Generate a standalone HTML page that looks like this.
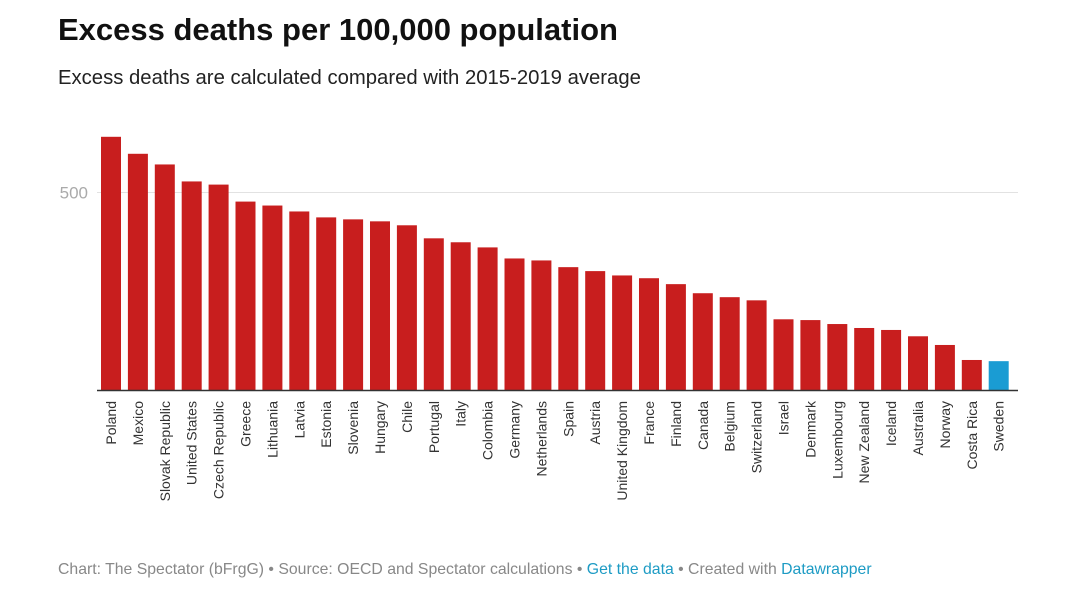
<!DOCTYPE html>
<html><head><meta charset="utf-8"><style>
body{margin:0;background:#fff;font-family:"Liberation Sans",sans-serif;}
#wrap{position:relative;width:1080px;height:608px;overflow:hidden}
h1{position:absolute;left:58px;top:12px;margin:0;font-size:31px;font-weight:bold;color:#111}
.sub{position:absolute;left:58px;top:67px;font-size:20.3px;color:#222}
.foot{position:absolute;left:58px;top:561px;font-size:15.8px;color:#888}
.foot a{color:#1d9bc4;text-decoration:none}
</style></head><body><div id="wrap">
<h1>Excess deaths per 100,000 population</h1>
<div class="sub">Excess deaths are calculated compared with 2015-2019 average</div>
<svg id="svg" width="1080" height="608" style="position:absolute;left:0;top:0"></svg>
<div class="foot">Chart: The Spectator (bFrgG) • Source: OECD and Spectator calculations • <a>Get the data</a> • Created with <a>Datawrapper</a></div>
</div>
<script>
const countries=["Poland","Mexico","Slovak Republic","United States","Czech Republic","Greece","Lithuania","Latvia","Estonia","Slovenia","Hungary","Chile","Portugal","Italy","Colombia","Germany","Netherlands","Spain","Austria","United Kingdom","France","Finland","Canada","Belgium","Switzerland","Israel","Denmark","Luxembourg","New Zealand","Iceland","Australia","Norway","Costa Rica","Sweden"];
const values=[641,598,571,528,520,477,467,452,437,432,427,417,384,374,361,333,328,311,301,290,283,268,245,235,227,179,177,167,157,152,136,114,76,73];
const ticks=[500];
const NS="http://www.w3.org/2000/svg",svg=document.getElementById("svg");
const y0=390,scale=(390-192.5)/500;
const yS=v=>y0-v*scale;
const x0=101,step=26.9,bw=20;
const xS=i=>x0+i*step;
function mk(t,a){const e=document.createElementNS(NS,t);for(const k in a)e.setAttribute(k,a[k]);svg.appendChild(e);return e;}
ticks.forEach(t=>{
 const l=mk("line",{x1:97,x2:1018,y1:yS(t),y2:yS(t),stroke:"#e2e2e2","stroke-width":1});
 
 
 const tx=mk("text",{x:88,y:yS(t)+6,"text-anchor":"end","font-size":17,fill:"#aaa","font-family":"Liberation Sans, sans-serif"});
 tx.textContent=t;
 
 
});
values.forEach((v,i)=>{
 const r=mk("rect",{x:xS(i),y:yS(v),width:bw,height:v*scale,fill:countries[i]==="Sweden"?"#1a9cd3":"#c81e1e"});
 
 
 const cx=xS(i)+bw/2+5;
 const t=mk("text",{x:cx,y:401,transform:`rotate(-90 ${cx} 401)`,"text-anchor":"end","font-size":14,fill:"#333","font-family":"Liberation Sans, sans-serif"});
 t.textContent=countries[i];
 
 
});
const b=mk("line",{x1:97,x2:1018,y1:y0+0.5,y2:y0+0.5,stroke:"#333","stroke-width":1.5});


</script></body></html>
